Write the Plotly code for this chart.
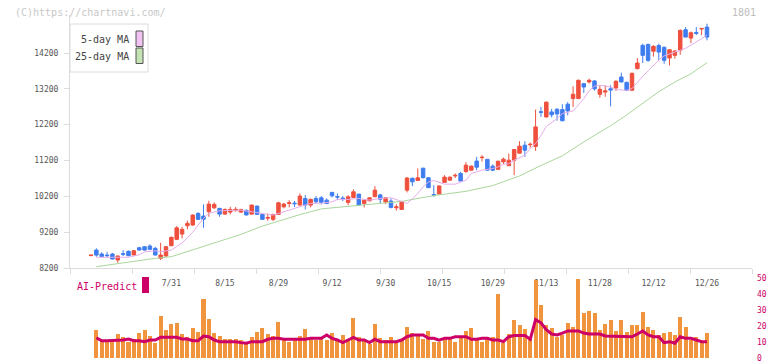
import plotly.graph_objects as go

# ---------------- data ----------------
opens = [8545, 8700, 8590, 8560, 8590, 8423, 8600, 8665, 8562, 8766,
         8794, 8813, 8749, 8470, 8534, 8822, 9000, 9147, 9380, 9398,
         9722, 9650, 9769, 9880, 9863, 9704, 9760, 9800, 9760, 9810,
         9704, 9927, 9696, 9590, 9557, 9696, 9908, 10000, 10010, 9955,
         10140, 9955, 10141, 10159, 10094, 10309, 10195, 10150, 10030, 10170,
         10262, 10002, 10075, 10187, 10240, 10040, 10070, 9880, 9835, 10373,
         10705, 10643, 10985, 10720, 10250, 10262, 10590, 10651, 10770, 10838,
         10893, 10930, 11185, 11280, 11232, 11042, 10954, 11162, 11056, 11209,
         11404, 11627, 11640, 11590, 12560, 12415, 12555, 12630, 12620, 12770,
         12928, 12928, 13345, 13392, 13420, 13048, 13110, 13200, 13225, 13530,
         13380, 13160, 13764, 14412, 14440, 14250, 14410, 14360, 14060, 14134,
         14274, 14849, 14616, 14770, 14870, 14923]
highs = [8565, 8750, 8640, 8650, 8620, 8550, 8700, 8690, 8700, 8790,
         8810, 8860, 8790, 8905, 8810, 9080, 9370, 9350, 9520, 9700,
         9760, 9975, 10075, 10030, 9880, 9860, 9908, 9900, 9850, 9830,
         9970, 9940, 9710, 9720, 9710, 10047, 10019, 10094, 10070, 10281,
         10234, 10141, 10206, 10206, 10141, 10326, 10280, 10210, 10234, 10393,
         10270, 10110, 10170, 10485, 10270, 10170, 10141, 9980, 10060, 10740,
         10720, 10978, 11000, 10730, 10513, 10500, 10790, 10750, 10840, 10883,
         11153, 11060, 11301, 11350, 11240, 11090, 11190, 11280, 11395, 11520,
         11738, 11738, 11700, 12621, 12700, 12840, 12640, 12660, 12770, 12833,
         13270, 13460, 13360, 13485, 13440, 13280, 13300, 13300, 13440, 13652,
         13400, 13660, 14059, 14460, 14460, 14420, 14460, 14380, 14300, 14280,
         14860, 14923, 14800, 14923, 14890, 15017]
lows = [8540, 8515, 8500, 8500, 8440, 8348, 8534, 8530, 8550, 8690,
        8690, 8700, 8550, 8423, 8520, 8810, 8980, 9027, 9280, 9380,
        9540, 9323, 9630, 9850, 9630, 9690, 9696, 9780, 9740, 9670,
        9690, 9690, 9550, 9520, 9509, 9690, 9863, 9891, 9900, 9955,
        9835, 9891, 10002, 9975, 9983, 10170, 10095, 10070, 9955, 10150,
        9950, 9891, 10060, 10187, 10002, 9983, 9863, 9800, 9820, 10309,
        10485, 10630, 10700, 10440, 10187, 10250, 10580, 10640, 10710, 10620,
        10855, 10920, 10930, 11170, 10920, 10900, 10940, 11100, 11040, 10791,
        11400, 11301, 11560, 11468, 12420, 12400, 12400, 12310, 12290, 12463,
        12694, 12920, 13084, 13350, 13150, 12950, 12980, 12710, 13140, 13380,
        13150, 13140, 13740, 13920, 13950, 14100, 14000, 13900, 13850, 14040,
        14150, 14640, 14477, 14700, 14700, 14552]
closes = [8560, 8560, 8520, 8545, 8450, 8534, 8580, 8543, 8682, 8701,
          8701, 8720, 8562, 8562, 8794, 9055, 9320, 9278, 9445, 9676,
          9557, 9557, 9983, 9975, 9704, 9835, 9835, 9840, 9835, 9680,
          9955, 9696, 9557, 9610, 9696, 10019, 9983, 10020, 9995, 10206,
          9955, 10113, 10047, 10030, 10002, 10215, 10180, 10135, 10187, 10326,
          9955, 10094, 10159, 10373, 10120, 10160, 9891, 9905, 10047, 10710,
          10605, 10717, 10720, 10442, 10232, 10490, 10736, 10736, 10785, 10628,
          11070, 11042, 11013, 11290, 10930, 10930, 11181, 11237, 11209, 11507,
          11599, 11487, 11652, 12137, 12546, 12829, 12476, 12500, 12310, 12584,
          13048, 13438, 13251, 13438, 13200, 13187, 13141, 13170, 13410, 13392,
          13160, 13630, 13920, 14134, 13995, 14385, 14226, 13995, 14290, 14254,
          14831, 14644, 14765, 14750, 14885, 14644]

# date labels (every 10th session, ending on the last one)
date_labels = ["7/31", "8/15", "8/29", "9/12", "9/30", "10/15",
               "10/29", "11/13", "11/28", "12/12", "12/26"]
date_label_index = [15, 25, 35, 45, 55, 65, 75, 85, 95, 105, 115]

# 5-day moving average (session index, value)
ma5_index = [1, 4, 7, 9, 10, 12, 13, 15, 16, 17, 18, 19, 20, 21, 22, 24, 28, 30,
             33, 34, 36, 37, 39, 40, 41, 43, 45, 46, 48, 50, 52, 54, 56, 58, 59,
             60, 61, 62, 63, 64, 66, 68, 70, 71, 73, 75, 76, 77, 78, 79, 81, 82,
             83, 84, 85, 87, 88, 90, 91, 92, 93, 94, 95, 97, 98, 100, 101, 102,
             103, 104, 105, 106, 107, 108, 109, 110, 111, 112, 113, 114, 115]
ma5_value = [8500, 8500, 8500, 8570, 8650, 8680, 8655, 8700, 8790, 8900, 9040,
             9200, 9400, 9585, 9724, 9796, 9816, 9760, 9696, 9677, 9769, 9816,
             9908, 9955, 10002, 10010, 10047, 10114, 10114, 10141, 10094, 10141,
             10159, 10060, 10002, 10130, 10281, 10466, 10600, 10640, 10540, 10540,
             10652, 10838, 10930, 10977, 11022, 11097, 11110, 11209, 11348, 11535,
             11674, 11900, 12150, 12370, 12510, 12583, 12760, 12926, 13150, 13275,
             13300, 13251, 13180, 13160, 13206, 13391, 13550, 13700, 13850, 14000,
             14120, 14170, 14210, 14260, 14330, 14420, 14500, 14600, 14700]

# 25-day moving average
ma25_index = [1, 4, 7, 9, 12, 15, 18, 20, 24, 28, 32, 35, 39, 43, 48, 53, 58,
              64, 70, 75, 80, 84, 88, 92, 97, 100, 103, 106, 109, 112, 115]
ma25_value = [8237, 8303, 8376, 8423, 8470, 8515, 8654, 8749, 8933, 9139, 9370,
              9510, 9690, 9850, 9927, 9990, 10060, 10220, 10340, 10500, 10770,
              11060, 11330, 11720, 12170, 12470, 12800, 13120, 13390, 13620, 13930]

# lower panel (sessions 1..115): orange bars and the AI-Predict line
bar_values = [17.5, 11.25, 11.25, 10.8, 15, 12.9, 10.2, 11.7, 15.8, 17.5,
              13.75, 9.6, 26.25, 17.5, 21.25, 22, 15, 13.3, 18.75, 16.25,
              36.9, 24.4, 15.6, 13.75, 11.7, 11.7, 11.7, 11, 9.2, 12.9,
              16.25, 18.75, 15, 13.75, 22.5, 11.7, 10, 11.25, 13.75, 18.1,
              12, 11.25, 12.5, 11.25, 15.6, 11.25, 14.4, 11.25, 25, 12.9,
              11.25, 8.75, 21.25, 12.5, 11.25, 13.1, 10.2, 11.5, 19.6, 15.4,
              14.2, 11.7, 16.7, 10.2, 10.2, 13.3, 11.7, 10.2, 13.75, 17.1,
              19, 11.7, 10.2, 13.3, 13.3, 40, 9.2, 15, 23.75, 20.6,
              18.2, 13.3, 48.75, 33.1, 20.8, 18.9, 13.3, 14.2, 21.9, 19.4,
              49.4, 28.1, 29.4, 28.1, 17.5, 21.25, 23.75, 16.9, 23.75, 16.25,
              20.6, 20.6, 28.75, 19.4, 17.5, 14.4, 15.6, 16.25, 14.4, 25.6,
              19.4, 11.25, 13.1, 10, 15.6]
ai_predict = [12.7, 10.8, 10.8, 10.8, 11.25, 11.25, 11.9, 10.8, 10.8, 10.2,
              11.25, 11.25, 12.9, 12.9, 12.9, 12.9, 11.9, 11.9, 10.8, 10.8,
              13.75, 13.3, 11.25, 10.2, 10.2, 10.2, 10.2, 9.6, 9.2, 10.2,
              10.2, 10.2, 11.7, 12.3, 12.3, 11.7, 11.7, 11.7, 11.7, 11.7,
              12.3, 12.3, 12.3, 14.4, 12.3, 11.25, 9.6, 11.25, 12.9, 11.25,
              11.25, 9.6, 11.7, 10.2, 10.2, 10.2, 10.2, 11.25, 13.3, 14.4,
              14.4, 14.4, 12.3, 12.3, 11.2, 12.3, 12.3, 13.3, 13.3, 13.3,
              11.7, 11.7, 12.3, 12.3, 11.2, 11.2, 10.2, 13.3, 14, 14,
              14, 11.7, 24, 22, 17.7, 15, 14.4, 15.6, 16.9, 16.9,
              16.9, 15.6, 15, 15, 15, 13.75, 13.75, 13.75, 13.75, 13.3,
              13.3, 15, 16.9, 14.4, 13.3, 13.3, 9.6, 10.2, 9.2, 13.3,
              12.3, 12.3, 11.2, 10.2, 10.2]

y_ticks = [8200, 9200, 10200, 11200, 12200, 13200, 14200]
ai_ticks = [0, 10, 20, 30, 40, 50]

# ---------------- geometry / style ----------------
W, H = 772, 361
PLOT_L, PLOT_R = 70, 752          # px
MAIN_TOP, MAIN_BOT = 15, 268      # px
SUB_TOP, SUB_BOT = 278, 358       # px
FIRST_PX, LAST_PX = 91, 707       # centre of first / last session
n = len(closes)
step = (LAST_PX - FIRST_PX) / (n - 1)
x_lo = (PLOT_L - FIRST_PX) / step
x_hi = (PLOT_R - FIRST_PX) / step
grid_ticks = [x_lo + k * 62 / step for k in range(12)]
y_top = 8200 + (MAIN_BOT - MAIN_TOP) * 6000 / (MAIN_BOT - 53)


def py(px):
    return 1 - px / H


def pxx(px):
    return px / W


RED = "#ef4f3d"
BLUE = "#3f7def"
MAG = "#cc0066"
MONO = "DejaVu Sans Mono"

sessions = list(range(n))
sub_sessions = list(range(1, n))

fig = go.Figure()
fig.add_trace(go.Candlestick(
    x=sessions, open=opens, high=highs, low=lows, close=closes,
    increasing=dict(line=dict(color=RED, width=1), fillcolor=RED),
    decreasing=dict(line=dict(color=BLUE, width=1), fillcolor=BLUE),
    whiskerwidth=0, hoverinfo="skip", xaxis="x", yaxis="y"))
fig.add_trace(go.Scatter(x=ma25_index, y=ma25_value, mode="lines",
                         line=dict(color="#a9d79c", width=1), hoverinfo="skip"))
fig.add_trace(go.Scatter(x=ma5_index, y=ma5_value, mode="lines",
                         line=dict(color="#e6aeea", width=1), hoverinfo="skip"))
# empty trace so that the overlaying tick-mark axis is drawn
fig.add_trace(go.Scatter(x=[], y=[], xaxis="x3", yaxis="y", hoverinfo="skip"))

fig.add_trace(go.Bar(x=sub_sessions, y=bar_values, width=0.75,
                     marker=dict(color="#f0953d", line=dict(width=0)),
                     xaxis="x2", yaxis="y2", hoverinfo="skip"))
fig.add_trace(go.Scatter(x=sub_sessions, y=ai_predict, mode="lines",
                         line=dict(color=MAG, width=3), xaxis="x2", yaxis="y2",
                         hoverinfo="skip"))

fig.update_layout(
    template="none",
    width=W, height=H, margin=dict(l=0, r=0, t=0, b=0, pad=0, autoexpand=False),
    paper_bgcolor="white", plot_bgcolor="white", showlegend=False,
    boxgap=0.35, boxgroupgap=0, bargap=0,
    xaxis=dict(domain=[pxx(PLOT_L), pxx(PLOT_R)], range=[x_lo, x_hi], anchor="y",
               automargin=False,
               showline=True, linecolor="#dcdcdc", linewidth=1, ticks="",
               tickvals=date_label_index, ticktext=date_labels,
               tickfont=dict(family=MONO, size=8, color="#555555"),
               ticklabelstandoff=7,
               showgrid=False, zeroline=False, rangeslider=dict(visible=False),
               fixedrange=True),
    xaxis3=dict(overlaying="x", anchor="y", range=[x_lo, x_hi], showline=False,
                automargin=False,
                ticks="outside", ticklen=5, tickcolor="#dcdcdc", tickwidth=1,
                tickvals=grid_ticks, showticklabels=False, showgrid=False,
                zeroline=False, fixedrange=True),
    yaxis=dict(domain=[py(MAIN_BOT), py(MAIN_TOP)], range=[8200, y_top], anchor="x",
               automargin=False,
               showline=True, linecolor="#dcdcdc", linewidth=1,
               ticks="outside", ticklen=5, tickcolor="#dcdcdc",
               tickvals=y_ticks, ticktext=[str(v) for v in y_ticks],
               tickfont=dict(family=MONO, size=8, color="#555555"),
               ticklabelstandoff=4,
               showgrid=False, zeroline=False, fixedrange=True),
    xaxis2=dict(domain=[pxx(PLOT_L), pxx(PLOT_R)], range=[x_lo, x_hi], anchor="y2",
                automargin=False,
                showline=False, ticks="", showticklabels=False, showgrid=False,
                zeroline=False, fixedrange=True),
    yaxis2=dict(domain=[py(SUB_BOT), py(SUB_TOP)], range=[0, 50], anchor="x2",
                automargin=False, ticklabeloverflow="allow",
                side="right", showline=False, ticks="", tickvals=ai_ticks,
                ticktext=[str(v) for v in ai_ticks],
                tickfont=dict(family=MONO, size=8, color=MAG),
                ticklabelstandoff=4,
                showgrid=False, zeroline=False, fixedrange=True),
)

shapes = [
    # legend box
    dict(type="rect", xref="paper", yref="paper", x0=pxx(70), x1=pxx(148),
         y0=py(72), y1=py(24), line=dict(color="#dcdcdc", width=1),
         fillcolor="white", layer="above"),
    dict(type="rect", xref="paper", yref="paper", x0=pxx(136), x1=pxx(143),
         y0=py(46.5), y1=py(31), line=dict(color="#555555", width=1),
         fillcolor="#f2c2f2"),
    dict(type="rect", xref="paper", yref="paper", x0=pxx(136), x1=pxx(143),
         y0=py(63.5), y1=py(48), line=dict(color="#555555", width=1),
         fillcolor="#c3e3b3"),
    # AI-Predict swatch
    dict(type="rect", xref="paper", yref="paper", x0=pxx(142), x1=pxx(149),
         y0=py(293), y1=py(277), line=dict(width=0), fillcolor=MAG),
]
annotations = [
    dict(text="(C)https://chartnavi.com/", xref="paper", yref="paper",
         x=pxx(13), y=py(12.5), xanchor="left", yanchor="middle", showarrow=False,
         font=dict(family=MONO, size=10, color="#c8c8c8")),
    dict(text="1801", xref="paper", yref="paper", x=pxx(758), y=py(12.5),
         xanchor="right", yanchor="middle", showarrow=False,
         font=dict(family=MONO, size=10, color="#bdbdbd")),
    dict(text="5-day MA", xref="paper", yref="paper", x=pxx(131), y=py(39.5),
         xanchor="right", yanchor="middle", showarrow=False,
         font=dict(family=MONO, size=10, color="#444444")),
    dict(text="25-day MA", xref="paper", yref="paper", x=pxx(131), y=py(56.5),
         xanchor="right", yanchor="middle", showarrow=False,
         font=dict(family=MONO, size=10, color="#444444")),
    dict(text="AI-Predict", xref="paper", yref="paper", x=pxx(75), y=py(286),
         xanchor="left", yanchor="middle", showarrow=False,
         font=dict(family=MONO, size=10, color=MAG)),
]
fig.update_layout(shapes=shapes, annotations=annotations)

fig.write_html(
    "out.html",
    config=dict(displayModeBar=False, staticPlot=True),
    post_script="document.body.style.margin='0px';document.body.style.overflow='hidden';",
)
